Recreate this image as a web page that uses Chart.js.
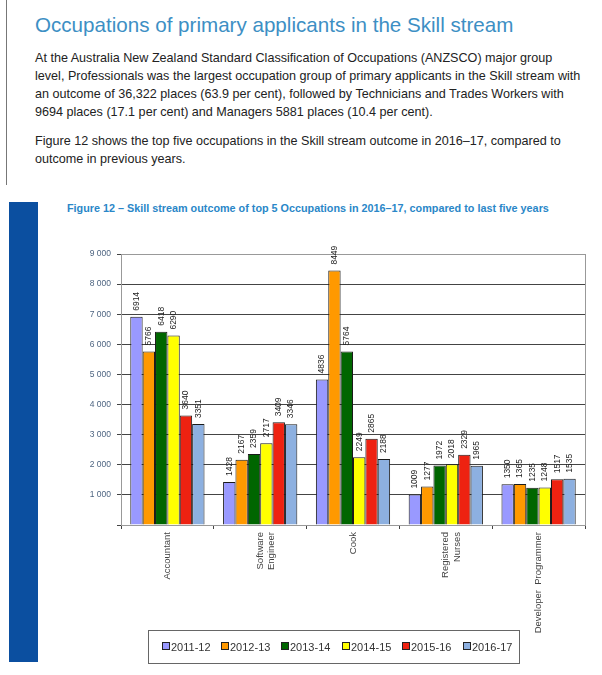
<!DOCTYPE html>
<html>
<head>
<meta charset="utf-8">
<script src="https://cdn.jsdelivr.net/npm/chart.js@4/dist/chart.umd.min.js"></script>
<style>
	body { margin: 0; background: #fff; font-family: "Liberation Sans", Arial, sans-serif; }
	#page { position: relative; width: 602px; height: 675px; overflow: hidden; }
	#side-line { position: absolute; left: 6px; top: 0; width: 1px; height: 185px; background: #777; }
	#heading { position: absolute; left: 35px; top: 13px; font-size: 20.6px; color: #3d8fc4; white-space: nowrap; }
	.para { position: absolute; left: 35px; font-size: 12.6px; line-height: 18px; color: #222; white-space: nowrap; }
	#side-bar { position: absolute; left: 9px; top: 202px; width: 29px; height: 460px; background: #0b4fa0; }
	#caption { position: absolute; left: 67px; top: 202px; font-size: 10.8px; font-weight: bold; color: #2a87c8; white-space: nowrap; }
	#chart-box { position: absolute; left: 40px; top: 236px; width: 560px; height: 425px; }
	#legend { position: absolute; left: 148px; top: 630px; width: 370px; height: 32px; border: 1px solid #666; }
	.legend-item { position: absolute; top: 10px; font-size: 11px; color: #333; line-height: 13px; }
	.legend-item span { display: inline-block; width: 6px; height: 6px; border: 1px solid #222; margin-right: 1px; vertical-align: 1px; }
</style>
</head>
<body>
<div id="page">
	<div id="side-line"></div>
	<div id="heading">Occupations of primary applicants in the Skill stream</div>
	<div class="para" style="top: 49px;">At the Australia New Zealand Standard Classification of Occupations (ANZSCO) major group<br>level, Professionals was the largest occupation group of primary applicants in the Skill stream with<br>an outcome of 36,322 places (63.9 per cent), followed by Technicians and Trades Workers with<br>9694 places (17.1 per cent) and Managers 5881 places (10.4 per cent).</div>
	<div class="para" style="top: 132px;">Figure 12 shows the top five occupations in the Skill stream outcome in 2016&#8211;17, compared to<br>outcome in previous years.</div>
	<div id="side-bar"></div>
	<div id="caption">Figure 12 &#8211; Skill stream outcome of top 5 Occupations in 2016&#8211;17, compared to last five years</div>
	<div id="chart-box"><canvas id="myChart"></canvas></div>
	<div id="legend"></div>
</div>
<script>
// 차트 데이터
var occupations = [ 'Accountant', [ 'Software', 'Engineer' ], 'Cook', [ 'Registered', 'Nurses' ], 'Developer  Programmer' ];
var years = [ '2011-12', '2012-13', '2013-14', '2014-15', '2015-16', '2016-17' ];
var outcome201112 = [ 6914, 1428, 4836, 1009, 1350 ];
var outcome201213 = [ 5766, 2167, 8449, 1277, 1365 ];
var outcome201314 = [ 6418, 2359, 5764, 1972, 1235 ];
var outcome201415 = [ 6290, 2717, 2249, 2018, 1248 ];
var outcome201516 = [ 3640, 3409, 2865, 2329, 1517 ];
var outcome201617 = [ 3351, 3346, 2188, 1965, 1535 ];
var yTicks = [ 0, 1000, 2000, 3000, 4000, 5000, 6000, 7000, 8000, 9000 ];
var yearColors = [ '#9999ff', '#ff9900', '#006600', '#ffff00', '#ee2211', '#8db0e0' ];

var seriesValues = [ outcome201112, outcome201213, outcome201314, outcome201415, outcome201516, outcome201617 ];

var datasets = [];
for (var i = 0; i < years.length; i++) {
	datasets.push({
		label : years[i],
		data : seriesValues[i],
		backgroundColor : yearColors[i],
		borderColor : '#1a1a1a',
		borderWidth : 1,
		barPercentage : 1.0,
		categoryPercentage : 0.8
	});
}

// 막대 위 숫자 (세로)
var barValueLabels = {
	id : 'barValueLabels',
	afterDatasetsDraw : function(chart) {
		var ctx = chart.ctx;
		ctx.save();
		ctx.font = '8.5px "Liberation Sans", Arial, sans-serif';
		ctx.fillStyle = '#222';
		ctx.textAlign = 'left';
		ctx.textBaseline = 'middle';
		chart.data.datasets.forEach(function(ds, i) {
			chart.getDatasetMeta(i).data.forEach(function(bar, j) {
				ctx.save();
				ctx.translate(bar.x, bar.y - 6);
				ctx.rotate(-Math.PI / 2);
				ctx.fillText(String(ds.data[j]), 0, 0);
				ctx.restore();
			});
		});
		ctx.restore();
	}
};

// 플롯 영역 테두리
var plotFrame = {
	id : 'plotFrame',
	beforeDatasetsDraw : function(chart) {
		var a = chart.chartArea;
		var ctx = chart.ctx;
		ctx.save();
		ctx.strokeStyle = '#999';
		ctx.lineWidth = 1;
		ctx.strokeRect(a.left + 0.5, a.top + 0.5, a.right - a.left, a.bottom - a.top);
		ctx.restore();
	}
};

var ctx = document.getElementById('myChart');
var myBarChart = new Chart(ctx, {
	type : 'bar',
	data : {
		labels : occupations,
		datasets : datasets
	},
	options : {
		responsive : true,
		maintainAspectRatio : false,
		animation : false,
		layout : {
			padding : { top : 18, right : 15, left : 0, bottom : 0 }
		},
		plugins : {
			legend : { display : false },
			tooltip : { enabled : false }
		},
		scales : {
			x : {
				grid : {
					display : true,
					drawOnChartArea : false,
					drawTicks : true,
					tickLength : 4,
					color : '#444'
				},
				border : { color : '#444' },
				ticks : {
					minRotation : 90,
					maxRotation : 90,
					color : '#444',
					padding : 3,
					font : { family : '"Liberation Sans", Arial, sans-serif', size : 9.5 }
				},
				afterFit : function(scale) {
					scale.height = 136;
				}
			},
			y : {
				min : 0,
				max : 9000,
				afterBuildTicks : function(scale) {
					scale.ticks = yTicks.map(function(v) { return { value : v }; });
				},
				grid : {
					color : '#444',
					tickLength : 4,
					drawTicks : true
				},
				border : { color : '#444' },
				ticks : {
					color : '#4d6480',
					padding : 6,
					font : { family : '"Liberation Sans", Arial, sans-serif', size : 8.5 },
					callback : function(value) {
						if (value === 0) return '';
						return String(value).replace(/\B(?=(\d{3})+(?!\d))/g, ' ');
					}
				},
				afterFit : function(scale) {
					scale.width = 81;
				}
			}
		}
	},
	plugins : [ plotFrame, barValueLabels ]
});

// 범례
var legendLeft = [ 13, 72, 132, 193, 253, 314 ];
var legendHtml = '';
for (var k = 0; k < years.length; k++) {
	legendHtml += '<div class="legend-item" style="left:' + legendLeft[k] + 'px"><span style="background:'
			+ yearColors[k] + '"></span>' + years[k] + '</div>';
}
document.getElementById('legend').innerHTML = legendHtml;
</script>
</body>
</html>
